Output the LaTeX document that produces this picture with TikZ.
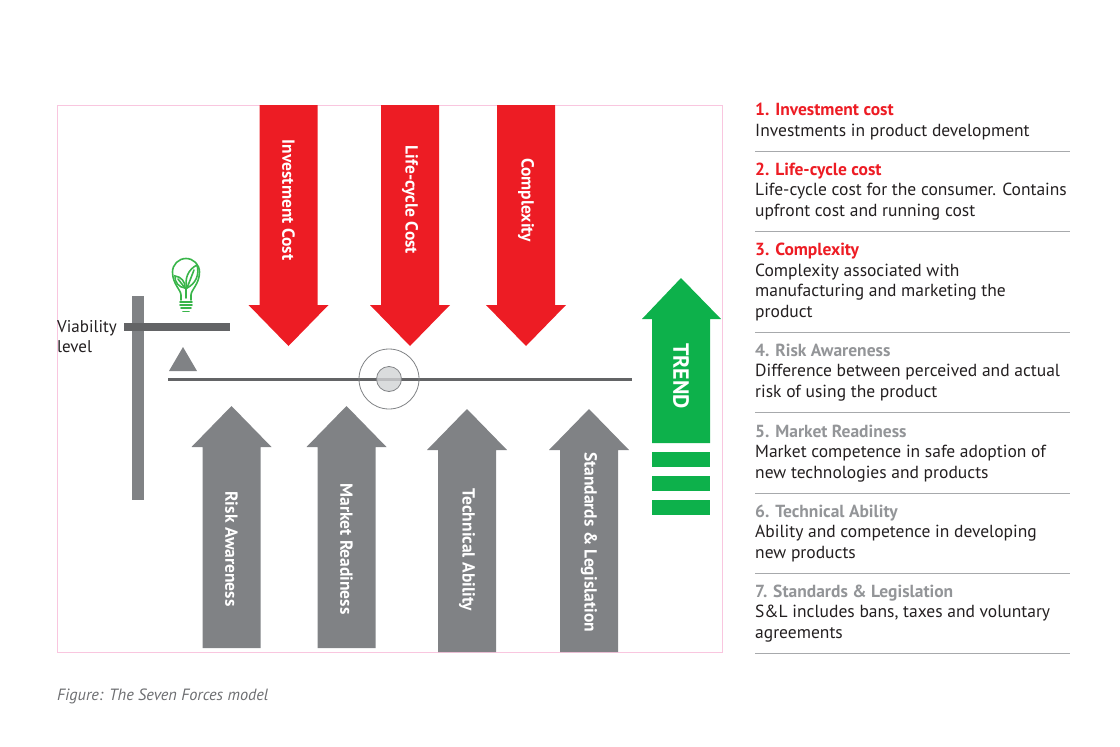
\documentclass[tikz,border=0pt]{standalone}
\usepackage{fontspec}
\setmainfont{PT Sans}
\usepackage{tikz}
\usetikzlibrary{positioning}
\definecolor{forcered}{HTML}{ED1C24}
\definecolor{forcegray}{HTML}{808285}
\definecolor{beamgray}{HTML}{636466}
\definecolor{trendgreen}{HTML}{0DB14B}
\definecolor{bulbgreen}{HTML}{39B54A}
\definecolor{titlegray}{HTML}{939598}
\definecolor{rulegray}{HTML}{A7A9AC}
\definecolor{framepink}{HTML}{F9C6DF}
\definecolor{pivotgray}{HTML}{D1D3D4}
\definecolor{textdark}{HTML}{231F20}
\definecolor{captiongray}{HTML}{6D6E71}
\tikzset{
  forcelabel/.style={text=white,font=\bfseries\fontsize{17.5}{20}\selectfont,rotate=-90,inner sep=0pt},
  entry/.style={anchor=base west,align=left,inner sep=0pt,text=textdark,font=\fontsize{17.5}{20.4}\selectfont},
  rule/.style={rulegray,line width=1pt}
}

\begin{document}
\begin{tikzpicture}[x=1pt,y=-1pt]
    \useasboundingbox (0,0) rectangle (1120,747);
    % frame
    \draw[framepink,line width=1pt] (57,105) rectangle (722,652);

    % forces pushing down
    \foreach \x/\name/\txt in {288.5/inv/Investment Cost,410/life/Life-cycle Cost,526/comp/Complexity} {
        \fill[forcered] (\x-29,105) -- (\x+29,105) -- (\x+29,305) -- (\x+40,305) -- (\x,346)
            -- (\x-40,305) -- (\x-29,305) -- cycle;
        \node[forcelabel] (\name) at (\x,200) {\txt};
    }

    % forces pushing up
    \foreach \x/\tip/\bot/\ly/\name/\txt in {231.5/406/648/549/risk/Risk Awareness,
            346.5/406/648/549/market/Market Readiness,467/409/652/550/tech/Technical Ability,
            589/409/652/542/stand/Standards \& Legislation} {
        \fill[forcegray] (\x-29,\bot) -- (\x+29,\bot) -- (\x+29,\tip+41) -- (\x+40,\tip+41) -- (\x,\tip)
            -- (\x-40,\tip+41) -- (\x-29,\tip+41) -- cycle;
        \node[forcelabel] (\name) at (\x,\ly) {\txt};
    }

    % trend
    \fill[trendgreen] (652,443) -- (710,443) -- (710,319) -- (721,319) -- (681,278) -- (642,319) -- (652,319) -- cycle;
    \foreach \y in {452,476,500}
        \fill[trendgreen] (652,\y) rectangle (710,\y+15);
    \node[forcelabel,font=\bfseries\fontsize{22}{24}\selectfont] (trend) at (681,376) {TREND};

    % scale
    \fill[forcegray] (132,296) rectangle (144,500);
    \fill[beamgray] (124,323) rectangle (230,331);
    \fill[forcegray] (169,371) -- (197,371) -- (183,347) -- cycle;
    \draw[beamgray,line width=3pt] (168,379) -- (632,379);
    \draw[forcegray,line width=0.8pt] (389,379) circle (30);
    \draw[forcegray,fill=pivotgray,fill opacity=0.8,line width=0.8pt] (389,379) circle (12.5);
    \node[entry,font=\fontsize{17}{20}\selectfont] (viab) at (57,352) {Viability\\level};

    % bulb
    \begin{scope}[bulbgreen,line width=1.6pt,line cap=round]
        \draw (181,300) -- (181,295) .. controls (181,290) and (172.5,284) .. (172.5,272)
            arc[start angle=180,end angle=360,radius=13.5]
            .. controls (199.5,284) and (191,290) .. (191,295) -- (191,300);
        \draw (180,302) -- (192,302) (180,305) -- (192,305) (181,308) -- (191,308) (183,311.5) -- (189,311.5);
        \draw (186,298) -- (186,287);
        \draw (185,288) to[bend left=45] (175,276) to[bend left=45] cycle;
        \draw (187,288) to[bend left=40] (197,265) to[bend left=40] cycle;
        \draw (185,288) -- (178,279) (187,288) -- (194,270);
    \end{scope}

    % list (each node sits on the baseline of its last line)
    \node[entry] (e1) at (755,136) {\textcolor{forcered}{\bfseries 1. Investment cost}\\Investments in product development};
    \node[entry] (e2) at (755,216) {\textcolor{forcered}{\bfseries 2. Life-cycle cost}\\Life-cycle cost for the consumer. Contains\\upfront cost and running cost};
    \node[entry] (e3) at (755,317) {\textcolor{forcered}{\bfseries 3. Complexity}\\Complexity associated with\\manufacturing and marketing the\\product};
    \node[entry] (e4) at (755,397) {\textcolor{titlegray}{\bfseries 4. Risk Awareness}\\Difference between perceived and actual\\risk of using the product};
    \node[entry] (e5) at (755,478) {\textcolor{titlegray}{\bfseries 5. Market Readiness}\\Market competence in safe adoption of\\new technologies and products};
    \node[entry] (e6) at (755,558) {\textcolor{titlegray}{\bfseries 6. Technical Ability}\\Ability and competence in developing\\new products};
    \node[entry] (e7) at (755,638) {\textcolor{titlegray}{\bfseries 7. Standards \& Legislation}\\S\&L includes bans, taxes and voluntary\\agreements};
    \foreach \y in {151,231,332,412,493,573,653}
        \draw[rule] (755,\y) -- (1070,\y);

    \node[anchor=base west,inner sep=0pt,text=captiongray,font=\itshape\fontsize{16.3}{18}\selectfont] (caption) at (57,700) {Figure: The Seven Forces model};
\end{tikzpicture}
\end{document}
